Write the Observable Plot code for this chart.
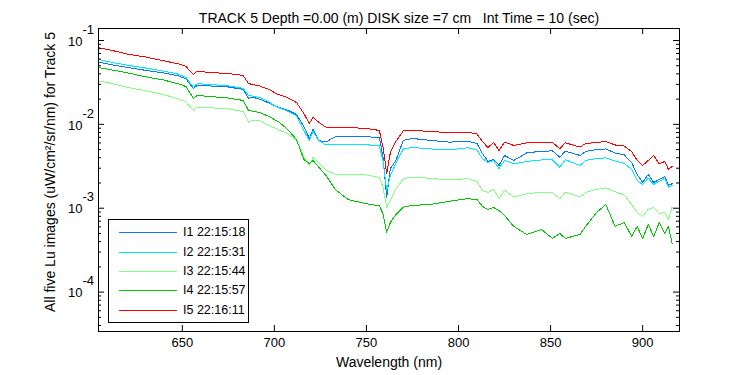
<!DOCTYPE html>
<html><head><meta charset="utf-8">
<script src="https://cdn.jsdelivr.net/npm/d3@7"></script>
<script src="https://cdn.jsdelivr.net/npm/@observablehq/plot@0.6"></script>
<style>
body{margin:0;background:#fff;font-family:"Liberation Sans",Arial,sans-serif;}
#wrap{position:relative;width:750px;height:375px;}
#legend{position:absolute;left:108px;top:219px;width:141px;height:104px;border:1px solid #000;background:#fff;box-sizing:border-box;font-size:12.5px;}
.row{position:absolute;left:0;height:16px;width:139px;}
.row .ln{position:absolute;left:10px;top:8px;width:58px;height:1px;}
.row .tx{position:absolute;left:74px;top:0;line-height:16px;white-space:nowrap;color:#000;}
</style></head>
<body><div id="wrap"><div id="legend"></div></div>
<script>
const wavelength = [605,612,620,630,640,648,652,656,658,665,675,683,686,688,692,697,702,707,712,716,719,721,724,728,733,740,750,757,759,761,763,766,770,775,785,795,805,810,813,816,819,822,825,830,837,845,851,855,858,866,869,875,880,885,890,894,897,900,903,906,909,912,914,916];

const I1 = [0.0551,0.0513,0.0477,0.0441,0.0410,
0.0378,0.0348,0.0266,0.0291,0.0287,
0.0279,0.0261,0.0204,0.0211,0.0200,
0.0180,0.0161,0.01485,0.01312,0.00944,
0.00679,0.00869,0.00643,0.00617,0.00708,
0.00714,0.00712,0.00698,0.00407,0.001356,
0.00298,0.00371,0.00643,0.00679,0.00643,
0.00614,0.00631,0.00592,0.00450,0.00361,
0.00382,0.00324,0.00426,0.00371,0.00456,
0.00479,0.00482,0.00407,0.00479,0.00426,
0.00475,0.00502,0.00509,0.00456,0.00432,
0.00351,0.00253,0.00203,0.00253,0.00203,
0.00220,0.00239,0.00187,0.00196];

const I2 = [0.0589,0.0547,0.0508,0.0470,0.0430,
0.0396,0.0362,0.0279,0.0305,0.0299,
0.0288,0.0268,0.0221,0.0218,0.0209,
0.0185,0.0159,0.01444,0.01259,0.00846,
0.00643,0.00823,0.00643,0.00568,0.00568,
0.00576,0.00572,0.00553,0.00371,0.00163,
0.00246,0.00342,0.00509,0.00530,0.00509,
0.00495,0.00526,0.00495,0.00392,0.00351,
0.00371,0.00298,0.00371,0.00339,0.00361,
0.00376,0.00376,0.00309,0.00378,0.00324,
0.00371,0.00392,0.00398,0.00366,0.00342,
0.00290,0.00214,0.00192,0.00227,0.00192,
0.00209,0.00227,0.00178,0.00187];

const I3 = [0.0327,0.0307,0.0277,0.0252,0.0226,
0.0201,0.0185,0.01464,0.01603,0.01577,
0.01526,0.01425,0.01062,0.01113,0.01098,
0.00970,0.00869,0.00779,0.00643,0.00414,
0.00324,0.00403,0.00351,0.00286,0.00256,
0.00251,0.00250,0.00233,0.00178,0.00103,
0.00124,0.00168,0.00225,0.00235,0.00227,
0.00217,0.00225,0.00209,0.00163,0.00154,
0.00168,0.00131,0.00163,0.00136,0.00148,
0.00156,0.00153,0.00130,0.00156,0.00136,
0.00154,0.00168,0.00175,0.00157,0.00144,
0.00111,0.000891,0.000798,0.000968,0.00102,
0.000867,0.000891,0.000735,0.00103];

const I4 = [0.0473,0.0445,0.0412,0.0369,0.0338,
0.0303,0.0283,0.0204,0.0221,0.0215,
0.0206,0.0193,0.01464,0.01444,0.01386,
0.01242,0.01083,0.00882,0.00661,0.00382,
0.00339,0.00371,0.00311,0.00246,0.00168,
0.00127,0.00113,0.00107,0.000860,0.000519,
0.000677,0.000844,0.00103,0.00108,0.00111,
0.00121,0.00130,0.00127,0.00105,0.000968,
0.00102,0.000941,0.000820,0.000607,0.000487,
0.000559,0.000437,0.000501,0.000437,0.000487,
0.000607,0.000891,0.00111,0.000607,0.000677,
0.000461,0.000607,0.000437,0.000641,0.000461,
0.000677,0.000501,0.000607,0.000378];

const I5 = [0.0818,0.0760,0.0690,0.0636,0.0573,
0.0525,0.0490,0.0393,0.0431,0.0415,
0.0404,0.0383,0.0307,0.0299,0.0287,
0.0261,0.0227,0.0209,0.0182,0.0135,
0.01025,0.0121,0.01062,0.00926,0.00926,
0.00918,0.00894,0.00846,0.00535,0.00260,
0.00462,0.00626,0.00834,0.00846,0.00823,
0.00794,0.00807,0.00768,0.00626,0.00530,
0.00608,0.00489,0.00614,0.00560,0.00600,
0.00614,0.00608,0.00512,0.00603,0.00535,
0.00592,0.00608,0.00626,0.00568,0.00553,
0.00475,0.00371,0.00324,0.00371,0.00426,
0.00339,0.00361,0.00290,0.00315];

const seriesNames = ["I1 22:15:18","I2 22:15:31","I3 22:15:44","I4 22:15:57","I5 22:16:11"];
const seriesColors = ["#0a78f0","#00e8ff","#80ff80","#00c800","#ff0000"];
const xTicks = [650,700,750,800,850,900];
const yMajor = [1e-4,1e-3,1e-2,1e-1];
const xDomain = [604.5, 920];
const yDomain = [3.39e-5, 0.139];
const title = "TRACK 5 Depth =0.00 (m) DISK size =7 cm\u00a0\u00a0\u00a0Int Time = 10 (sec)";
const xLabel = "Wavelength (nm)";
const yLabel = "All five Lu images (uW/cm\u00b2/sr/nm) for Track 5";

const series = [I1,I2,I3,I4,I5];
const rows = [];
series.forEach((arr,i)=>arr.forEach((v,j)=>rows.push({wl: wavelength[j], v, s: seriesNames[i]})));

const yMinor = [];
for (const d of [1e-5,1e-4,1e-3,1e-2,1e-1]) for (let k=2;k<=9;k++){const t=k*d; if(t>=yDomain[0]&&t<=yDomain[1]) yMinor.push(t);}

const W=750,H=375,mL=98,mR=71,mT=28,mB=44;
const fw=W-mL-mR, fh=H-mT-mB;

const chart = Plot.plot({
  width:W, height:H, marginLeft:mL, marginRight:mR, marginTop:mT, marginBottom:mB,
  style:{fontFamily:"Liberation Sans, Arial, sans-serif", fontSize:"13px", background:"white", color:"black"},
  x:{domain:xDomain, axis:null},
  y:{type:"log", domain:yDomain, axis:null},
  color:{domain:seriesNames, range:seriesColors},
  marks:[
    Plot.line(rows,{x:"wl", y:"v", z:"s", stroke:"s", strokeWidth:1, shapeRendering:"crispEdges"}),
    Plot.frame({stroke:"black"}),
    Plot.tickX(xTicks,{x:d=>d, insetTop:fh-6, stroke:"black"}),
    Plot.tickX(xTicks,{x:d=>d, insetBottom:fh-6, stroke:"black"}),
    Plot.tickY(yMajor,{y:d=>d, insetRight:fw-6, stroke:"black"}),
    Plot.tickY(yMajor,{y:d=>d, insetLeft:fw-6, stroke:"black"}),
    Plot.tickY(yMinor,{y:d=>d, insetRight:fw-3, stroke:"black"}),
    Plot.tickY(yMinor,{y:d=>d, insetLeft:fw-3, stroke:"black"}),
    Plot.text(xTicks,{x:d=>d, text:d=>String(d), frameAnchor:"bottom", dy:15, fontSize:13}),
    Plot.text(yMajor,{y:d=>d, text:()=>"10", frameAnchor:"left", textAnchor:"end", dx:-16, dy:1, fontSize:13}),
    Plot.text(yMajor,{y:d=>d, text:d=>String(Math.round(Math.log10(d))), frameAnchor:"left", textAnchor:"start", dx:-16, dy:-11, fontSize:13}),
    Plot.text([xLabel],{frameAnchor:"bottom", dy:35, fontSize:14}),
    Plot.text([yLabel],{frameAnchor:"left", textAnchor:"middle", rotate:-90, dx:-48, dy:-8, fontSize:14}),
    Plot.text([title],{frameAnchor:"top", textAnchor:"middle", dy:-15, dx:10, fontSize:14})
  ]
});
document.getElementById("wrap").prepend(chart);

const lg = document.getElementById("legend");
const centers = [12,32,51,70,90];
seriesNames.forEach((n,i)=>{
  const r = document.createElement("div");
  r.className="row"; r.style.top=(centers[i]-8)+"px";
  const l = document.createElement("div"); l.className="ln"; l.style.background=seriesColors[i];
  const t = document.createElement("div"); t.className="tx"; t.textContent=n;
  r.appendChild(l); r.appendChild(t); lg.appendChild(r);
});
</script>
</body></html>
